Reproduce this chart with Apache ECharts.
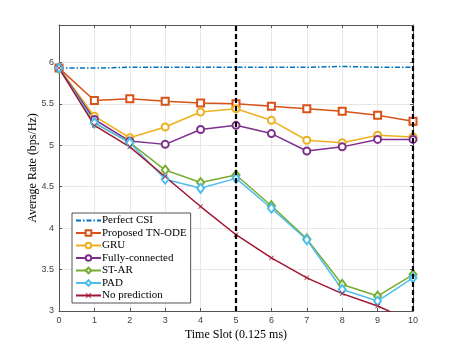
<!DOCTYPE html>
<html>
<head>
<meta charset="utf-8">
<script src="https://cdn.jsdelivr.net/npm/echarts@6/dist/echarts.min.js"></script>
<style>
  html, body { margin: 0; padding: 0; background: #fff; }
  #chart { width: 457px; height: 350px; }
</style>
</head>
<body>
<div id="chart"></div>
<script>
// time slots (x) and average rate per method
const slots = [0, 1, 2, 3, 4, 5, 6, 7, 8, 9, 10];
const perfectCSI = [5.93, 5.93, 5.94, 5.94, 5.94, 5.94, 5.94, 5.94, 5.95, 5.94, 5.94];
const tnOde = [5.93, 5.54, 5.56, 5.53, 5.51, 5.50, 5.47, 5.44, 5.41, 5.36, 5.29];
const gru = [5.93, 5.35, 5.09, 5.22, 5.40, 5.44, 5.30, 5.06, 5.03, 5.12, 5.10];
const fullyConn = [5.93, 5.31, 5.05, 5.01, 5.19, 5.24, 5.14, 4.93, 4.98, 5.07, 5.07];
const stAr = [5.93, 5.27, 5.03, 4.70, 4.55, 4.64, 4.27, 3.87, 3.32, 3.18, 3.44];
const pad = [5.93, 5.27, 5.03, 4.59, 4.48, 4.60, 4.24, 3.86, 3.26, 3.12, 3.40];
const noPred = [5.93, 5.24, 4.98, 4.62, 4.26, 3.92, 3.64, 3.40, 3.21, 3.06, 2.87];
const boundarySlots = [5, 10];

const names = ['Perfect CSI', 'Proposed TN-ODE', 'GRU', 'Fully-connected', 'ST-AR', 'PAD', 'No prediction'];

const xMark = 'path://M1,0L5,4L9,0L10,1L6,5L10,9L9,10L5,6L1,10L0,9L4,5L0,1Z';

const pair = (ys) => slots.map((x, i) => [x, ys[i]]);

const tickFont = { fontFamily: 'Liberation Sans, Arial', fontSize: 9, color: '#404040' };

const makeSeries = (name, ys, color, symbol, extra) => Object.assign({
  name: name,
  type: 'line',
  data: pair(ys),
  symbol: symbol,
  symbolSize: 7,
  showSymbol: symbol !== 'none',
  lineStyle: { color: color, width: 1.5 },
  itemStyle: { color: color, borderWidth: 1.2 },
  animation: false
}, extra || {});

const chart = echarts.init(document.getElementById('chart'));

chart.setOption({
  backgroundColor: '#fff',
  grid: { left: 59, right: 44, top: 25, bottom: 39 },
  legend: {
    data: names.map((n, i) => (i === 0 ? { name: n, itemStyle: { opacity: 0 } } : n)),
    orient: 'vertical',
    left: 72,
    top: 213,
    backgroundColor: '#fff',
    borderColor: '#262626',
    borderWidth: 0.8,
    borderRadius: 0,
    padding: [2, 4, 2, 3],
    itemGap: 1.5,
    itemWidth: 25,
    itemHeight: 7,
    textStyle: { fontFamily: 'Liberation Serif', fontSize: 11, color: '#000', padding: [0, 0, 0, -4] }
  },
  xAxis: [{
    type: 'value',
    min: 0,
    max: 10,
    interval: 1,
    name: 'Time Slot (0.125 ms)',
    nameLocation: 'middle',
    nameGap: 18,
    nameMoveOverlap: false,
    nameTextStyle: { fontFamily: 'Liberation Serif', fontSize: 12, color: '#000' },
    axisLine: { onZero: false, lineStyle: { color: '#555', width: 1 } },
    axisTick: { inside: true, length: 3, lineStyle: { color: '#555' } },
    axisLabel: Object.assign({ margin: 5 }, tickFont),
    splitLine: { show: true, lineStyle: { color: '#e8e8e8', width: 1 } }
  }, {
    type: 'value',
    position: 'top',
    min: 0,
    max: 10,
    interval: 1,
    axisLine: { onZero: false, lineStyle: { color: '#555', width: 1 } },
    axisTick: { inside: true, length: 3, lineStyle: { color: '#555' } },
    axisLabel: { show: false },
    splitLine: { show: false }
  }],
  yAxis: [{
    type: 'value',
    min: 3,
    max: 6.45,
    interval: 0.5,
    name: 'Average Rate (bps/Hz)',
    nameLocation: 'middle',
    nameGap: 20,
    nameMoveOverlap: false,
    nameTextStyle: { fontFamily: 'Liberation Serif', fontSize: 12, color: '#000' },
    axisLine: { show: true, onZero: false, lineStyle: { color: '#555', width: 1 } },
    axisTick: { show: true, inside: true, length: 3, lineStyle: { color: '#555' } },
    axisLabel: Object.assign({
      margin: 5,
      formatter: (v) => (v > 6.01 ? '' : String(v))
    }, tickFont),
    splitLine: { show: true, lineStyle: { color: '#e8e8e8', width: 1 } }
  }, {
    type: 'value',
    position: 'right',
    min: 3,
    max: 6.45,
    interval: 0.5,
    axisLine: { show: true, onZero: false, lineStyle: { color: '#555', width: 1 } },
    axisTick: { show: true, inside: true, length: 3, lineStyle: { color: '#555' } },
    axisLabel: { show: false },
    splitLine: { show: false }
  }],
  series: [
    makeSeries(names[0], perfectCSI, '#0072BD', 'none', {
      lineStyle: { color: '#0072BD', width: 1.5, type: [5, 2, 1.5, 2] }
    }),
    makeSeries(names[1], tnOde, '#D95319', 'emptyRect'),
    makeSeries(names[2], gru, '#EDB120', 'emptyCircle'),
    makeSeries(names[3], fullyConn, '#7E2F8E', 'emptyCircle'),
    makeSeries(names[4], stAr, '#77AC30', 'emptyDiamond', { symbolSize: [7, 9] }),
    makeSeries(names[5], pad, '#4DBEEE', 'emptyDiamond', { symbolSize: [7, 9] }),
    makeSeries(names[6], noPred, '#A2142F', xMark, {
      symbolSize: 5,
      itemStyle: { color: '#A2142F', borderWidth: 0 },
      markLine: {
        silent: true,
        symbol: 'none',
        label: { show: false },
        lineStyle: { color: '#000', width: 2.2, type: [5, 3] },
        data: boundarySlots.map((x) => ({ xAxis: x }))
      }
    })
  ]
});
</script>
</body>
</html>
